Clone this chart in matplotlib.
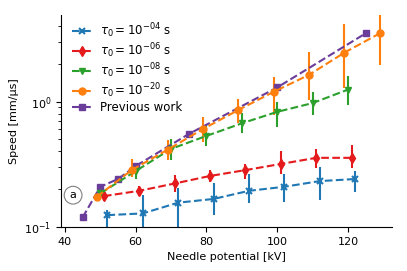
import matplotlib
matplotlib.use("Agg")
import matplotlib.pyplot as plt
import numpy as np

# ---- data ----
labels = [r"$\tau_0 = 10^{-04}$ s", r"$\tau_0 = 10^{-06}$ s",
          r"$\tau_0 = 10^{-08}$ s", r"$\tau_0 = 10^{-20}$ s"]

x_e4 = [52, 62, 72, 82, 92, 102, 112, 122]
y_e4 = [0.124, 0.128, 0.156, 0.167, 0.194, 0.209, 0.232, 0.241]
lo_e4 = [0.06, 0.06, 0.08, 0.124, 0.154, 0.158, 0.164, 0.191]
hi_e4 = [0.137, 0.178, 0.203, 0.222, 0.264, 0.264, 0.302, 0.279]

x_e6 = [51, 61, 71, 81, 91, 101, 111, 121]
y_e6 = [0.176, 0.194, 0.222, 0.255, 0.284, 0.318, 0.356, 0.356]
lo_e6 = [0.162, 0.176, 0.190, 0.229, 0.239, 0.264, 0.293, 0.293]
hi_e6 = [0.188, 0.212, 0.259, 0.284, 0.316, 0.405, 0.416, 0.450]

x_e8 = [50, 60, 70, 80, 90, 100, 110, 120]
y_e8 = [0.185, 0.279, 0.420, 0.533, 0.672, 0.830, 0.975, 1.25]
lo_e8 = [0.170, 0.240, 0.340, 0.440, 0.560, 0.630, 0.780, 0.940]
hi_e8 = [0.200, 0.320, 0.500, 0.650, 0.810, 1.000, 1.200, 1.600]

x_e20 = [49, 59, 69, 79, 89, 99, 109, 119, 129]
y_e20 = [0.174, 0.286, 0.413, 0.605, 0.858, 1.20, 1.64, 2.47, 3.52]
lo_e20 = [0.160, 0.250, 0.340, 0.480, 0.670, 0.780, 1.030, 1.280, 1.970]
hi_e20 = [0.190, 0.350, 0.490, 0.760, 1.060, 1.580, 2.510, 4.190, 5.200]

x_prev = [45, 50, 55, 60, 75, 100, 125]
y_prev = [0.119, 0.209, 0.241, 0.306, 0.552, 1.30, 3.52]
prev_label = "Previous work"

colors = ["#1f77b4", "#e41a1c", "#2ca02c", "#ff7f0e"]
markers = ["x", "d", "v", "o"]
prev_color = "#6a3d9a"

plt.rcParams["font.family"] = ["DejaVu Sans"]
plt.rcParams["font.size"] = 8

fig = plt.figure(figsize=(4.07, 2.71), dpi=100)
ax = fig.add_axes([0.150, 0.163, 0.812, 0.782])

handles = []
series = [(x_e4, y_e4, lo_e4, hi_e4), (x_e6, y_e6, lo_e6, hi_e6),
          (x_e8, y_e8, lo_e8, hi_e8), (x_e20, y_e20, lo_e20, hi_e20)]
for (xs, ys, lo, hi), c, m, lab in zip(series, colors, markers, labels):
    ys_a = np.array(ys)
    yerr = [ys_a - np.array(lo), np.array(hi) - ys_a]
    cont = ax.errorbar(xs, ys, yerr=yerr, color=c, marker=m, ls="--", lw=1.5,
                       elinewidth=1.5, capsize=0,
                       markersize=5 if m != "v" else 4.5,
                       mew=1.5 if m == "x" else 1, label=lab)
    handles.append(cont.lines[0])

pl, = ax.plot(x_prev, y_prev, ls="--", lw=1.5, marker="s", markersize=5,
              color=prev_color, label=prev_label)
handles.append(pl)

ax.set_yscale("log")
ax.set_xlim(38.9, 132.3)
ax.set_ylim(0.1, 4.94)
ax.set_xticks([40, 60, 80, 100, 120])
ax.set_xlabel("Needle potential [kV]")
ax.set_ylabel("Speed [mm/μs]")
ax.spines["top"].set_visible(False)
ax.spines["right"].set_visible(False)

ax.legend(handles=handles, labels=labels + [prev_label], loc="upper left",
          frameon=False, bbox_to_anchor=(0.0, 1.02),
          handlelength=1.7, handletextpad=0.7, labelspacing=0.1, fontsize=8.5)

ax.text(42.3, 0.179, "a", ha="center", va="center", fontsize=8,
        bbox=dict(boxstyle="circle,pad=0.35", fc="white", ec="gray", lw=0.8))

fig.savefig("out.png", dpi=100)
